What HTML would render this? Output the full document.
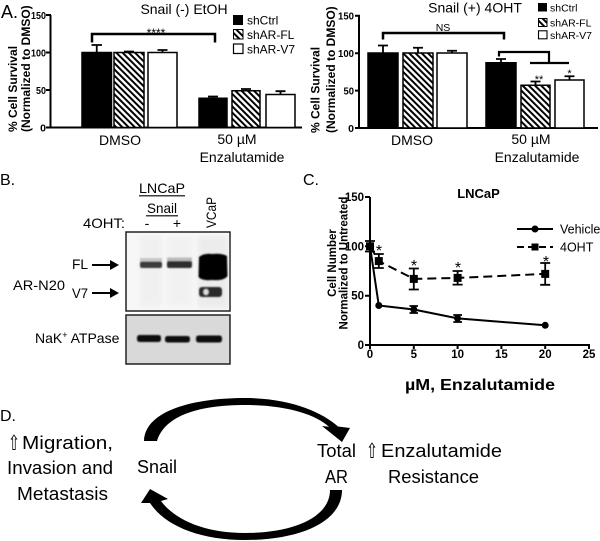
<!DOCTYPE html>
<html><head><meta charset="utf-8"><style>
html,body{margin:0;padding:0;background:#fff;}
svg{display:block;}
text{font-family:"Liberation Sans",Arial,sans-serif;fill:#000;}
.b{font-weight:bold;}
</style></head><body>
<svg width="600" height="541" viewBox="0 0 600 541" xmlns="http://www.w3.org/2000/svg">
<defs>
<pattern id="h" patternUnits="userSpaceOnUse" width="4.4" height="4.4" patternTransform="rotate(-45)">
<rect width="4.4" height="4.4" fill="#fff"/>
<rect x="0" y="0" width="2" height="4.4" fill="#000"/>
</pattern>
<filter id="bl" x="-20%" y="-50%" width="140%" height="200%"><feGaussianBlur stdDeviation="0.9"/></filter>
<filter id="bl2" x="-20%" y="-20%" width="140%" height="140%"><feGaussianBlur stdDeviation="2"/></filter>
</defs>

<!-- ============ PANEL A LEFT ============ -->
<text x="1" y="18" font-size="18">A.</text>
<text x="184" y="14" font-size="14" text-anchor="middle">Snail (-) EtOH</text>
<g stroke="#000" stroke-width="2" fill="none">
<path d="M50.5,15 V128.5 M50,127.5 H302"/>
<path d="M46,15 H51 M46,52.5 H51 M46,90 H51 M46,127.5 H51"/>
</g>
<g class="b" font-size="10.5" text-anchor="end">
<text x="46" y="19" textLength="15" lengthAdjust="spacingAndGlyphs">150</text>
<text x="46" y="56.5" textLength="15" lengthAdjust="spacingAndGlyphs">100</text>
<text x="46" y="94" textLength="10" lengthAdjust="spacingAndGlyphs">50</text>
<text x="46" y="131.5">0</text>
</g>
<text class="b" font-size="12" transform="translate(17,132) rotate(-90)">% Cell Survival</text>
<text class="b" font-size="12" transform="translate(30,132) rotate(-90)">(Normalized to DMSO)</text>
<!-- bars -->
<g stroke="#000" stroke-width="1.5">
<rect x="82" y="52.5" width="29.5" height="75" fill="#000"/>
<rect x="114" y="52.5" width="30" height="75" fill="url(#h)"/>
<rect x="148" y="52.5" width="29" height="75" fill="#fff"/>
<rect x="199" y="98.25" width="28" height="29.25" fill="#000"/>
<rect x="232" y="90.75" width="28" height="36.75" fill="url(#h)"/>
<rect x="266" y="94.5" width="29" height="33" fill="#fff"/>
</g>
<g stroke="#000" stroke-width="1.8" fill="none">
<path d="M96.75,52.5 V45 M91.5,45 H102"/>
<path d="M129,52.5 V51.5 M124,51.5 H134"/>
<path d="M162.5,52.5 V50 M157.5,50 H167.5"/>
<path d="M213,98 V96.5 M208,96.5 H218"/>
<path d="M246,90.5 V89 M241,89 H251"/>
<path d="M280.5,94.5 V91.2 M275.5,91.2 H285.5"/>
</g>
<path d="M92,42.5 V34 H215 V42.5" stroke="#000" stroke-width="2.5" fill="none"/>
<text x="156" y="37" font-size="12" text-anchor="middle">****</text>
<!-- legend -->
<rect x="233" y="15" width="10" height="10" fill="#000"/>
<rect x="233.5" y="29.5" width="9.5" height="9.5" fill="url(#h)" stroke="#000" stroke-width="1"/>
<rect x="233.5" y="44" width="9.5" height="9.5" fill="#fff" stroke="#000" stroke-width="1.2"/>
<text x="247" y="24.3" font-size="12">shCtrl</text>
<text x="247" y="38.8" font-size="12">shAR-FL</text>
<text x="247" y="53.3" font-size="12">shAR-V7</text>
<text x="120" y="145" font-size="14" text-anchor="middle">DMSO</text>
<text x="237" y="144" font-size="14" text-anchor="middle">50 µM</text>
<text x="242" y="162" font-size="14" text-anchor="middle">Enzalutamide</text>

<!-- ============ PANEL A RIGHT ============ -->
<text x="475" y="12.5" font-size="14" text-anchor="middle">Snail (+) 4OHT</text>
<g stroke="#000" stroke-width="2" fill="none">
<path d="M359,15.7 V129 M358.5,128 H598"/>
<path d="M355,15.7 H360 M355,53.2 H360 M355,90.6 H360 M355,128 H360"/>
</g>
<g class="b" font-size="10.5" text-anchor="end">
<text x="354" y="19.7" textLength="16" lengthAdjust="spacingAndGlyphs">150</text>
<text x="354" y="57.2" textLength="16" lengthAdjust="spacingAndGlyphs">100</text>
<text x="354" y="94.6" textLength="10.5" lengthAdjust="spacingAndGlyphs">50</text>
<text x="354" y="132">0</text>
</g>
<text class="b" font-size="12" transform="translate(319.5,133) rotate(-90)">% Cell Survival</text>
<text class="b" font-size="12" transform="translate(335,133) rotate(-90)">(Normalized to DMSO)</text>
<g stroke="#000" stroke-width="1.5">
<rect x="368" y="53" width="30" height="75" fill="#000"/>
<rect x="403" y="53" width="30" height="75" fill="url(#h)"/>
<rect x="437" y="53" width="30" height="75" fill="#fff"/>
<rect x="486" y="62.75" width="30" height="65.25" fill="#000"/>
<rect x="521" y="85.25" width="29" height="42.75" fill="url(#h)"/>
<rect x="555" y="80" width="29" height="48" fill="#fff"/>
</g>
<g stroke="#000" stroke-width="1.8" fill="none">
<path d="M383,53 V45.5 M378,45.5 H388"/>
<path d="M418,53 V47.75 M413,47.75 H423"/>
<path d="M452,53 V50.75 M447,50.75 H457"/>
<path d="M501,62.75 V59 M496,59 H506"/>
<path d="M535.5,85.25 V81.5 M530.5,81.5 H540.5"/>
<path d="M569.5,80 V76.25 M564.5,76.25 H574.5"/>
</g>
<path d="M383,39.5 V33 H504 V39.5" stroke="#000" stroke-width="2.5" fill="none"/>
<text x="443" y="31" font-size="10.5" text-anchor="middle">NS</text>
<path d="M499,56.5 V52 H549 V63 M530,63 H569" stroke="#000" stroke-width="2.2" fill="none"/>
<text x="539" y="83" font-size="11" text-anchor="middle" fill="#333">**</text>
<text x="569.5" y="77" font-size="11" text-anchor="middle" fill="#333">*</text>
<rect x="538" y="3" width="9" height="8.5" fill="#000"/>
<rect x="538.5" y="18.5" width="8.5" height="8" fill="url(#h)" stroke="#000" stroke-width="1"/>
<rect x="538.5" y="30.8" width="8.5" height="8" fill="#fff" stroke="#000" stroke-width="1.1"/>
<text x="550" y="11.5" font-size="10.5">shCtrl</text>
<text x="550" y="26.7" font-size="10.5">shAR-FL</text>
<text x="550" y="39" font-size="10.5">shAR-V7</text>
<text x="412" y="145" font-size="14" text-anchor="middle">DMSO</text>
<text x="531" y="144" font-size="14" text-anchor="middle">50 µM</text>
<text x="537" y="162" font-size="14" text-anchor="middle">Enzalutamide</text>

<!-- ============ PANEL B ============ -->
<text x="0" y="185" font-size="16">B.</text>
<text x="139" y="193" font-size="14" textLength="46" lengthAdjust="spacingAndGlyphs">LNCaP</text>
<path d="M139,195.8 H185" stroke="#000" stroke-width="1.2"/>
<text x="147" y="213" font-size="14" textLength="30" lengthAdjust="spacingAndGlyphs">Snail</text>
<path d="M146,215.8 H178" stroke="#000" stroke-width="1.2"/>
<text x="83" y="228" font-size="14" textLength="42" lengthAdjust="spacingAndGlyphs">4OHT:</text>
<text x="147" y="228" font-size="14" text-anchor="middle">-</text>
<text x="177" y="228" font-size="14" text-anchor="middle">+</text>
<text font-size="14" transform="translate(216,228) rotate(-90)" textLength="31" lengthAdjust="spacingAndGlyphs">VCaP</text>
<!-- blot 1 -->
<rect x="126" y="232" width="104" height="79" fill="#f7f7f7" stroke="#222" stroke-width="1.5"/>
<g filter="url(#bl2)" opacity="0.35">
<rect x="140" y="236" width="22" height="70" fill="#e4e4e4"/>
<rect x="167" y="236" width="25" height="70" fill="#e8e8e8"/>
<rect x="198" y="236" width="30" height="72" fill="#d8d8d8"/>
</g>
<g filter="url(#bl)">
<rect x="140" y="258" width="22" height="5" fill="#c8c8c8"/>
<rect x="167" y="257.5" width="25" height="5" fill="#bbb"/>
<rect x="140" y="261.5" width="22" height="6.5" rx="2" fill="#3a3a3a"/>
<rect x="167" y="261" width="25" height="7" rx="2" fill="#2e2e2e"/>
<path d="M199,257 Q204,253 212,254 Q222,253 227,256 L227.5,276 Q224,281 212,280 Q202,281 198.5,277 Z" fill="#000"/>
<rect x="199" y="287" width="23" height="10" rx="3" fill="#2a2a2a"/>
<ellipse cx="206" cy="292" rx="2.6" ry="3" fill="#ddd"/>
</g>
<path d="M92,265 H113" stroke="#000" stroke-width="2"/>
<polygon points="110,260 119,265 110,270" fill="#000"/>
<path d="M92,293 H113" stroke="#000" stroke-width="2"/>
<polygon points="110,288 119,293 110,298" fill="#000"/>
<text x="72" y="269" font-size="14" textLength="16" lengthAdjust="spacingAndGlyphs">FL</text>
<text x="72" y="298" font-size="14" textLength="16" lengthAdjust="spacingAndGlyphs">V7</text>
<text x="13" y="290" font-size="14" textLength="52" lengthAdjust="spacingAndGlyphs">AR-N20</text>
<!-- blot 2 -->
<rect x="126" y="315" width="104" height="49" fill="#d9d9d9" stroke="#222" stroke-width="1.5"/>
<g filter="url(#bl)">
<rect x="137" y="335" width="24" height="7" rx="2.5" fill="#0a0a0a"/>
<rect x="165" y="336" width="25" height="6.5" rx="2.5" fill="#0a0a0a"/>
<rect x="196" y="335.5" width="26" height="7" rx="2.5" fill="#0a0a0a"/>
</g>
<text x="35" y="343" font-size="14">NaK<tspan font-size="9" dy="-5">+</tspan><tspan dy="5"> ATPase</tspan></text>

<!-- ============ PANEL C ============ -->
<text x="303" y="185" font-size="16">C.</text>
<text x="478.5" y="198" class="b" font-size="13" text-anchor="middle">LNCaP</text>
<g stroke="#000" stroke-width="2" fill="none">
<path d="M370,197 V346 M369,345 H590"/>
<path d="M365,197 H370 M365,246.3 H370 M365,295.7 H370 M365,345 H370"/>
<path d="M370,345 V349 M413.8,345 V349 M457.6,345 V349 M501.4,345 V349 M545.2,345 V349 M589,345 V349"/>
</g>
<g class="b" font-size="11.5" text-anchor="end">
<text x="364" y="201">150</text>
<text x="364" y="250.3">100</text>
<text x="364" y="299.7">50</text>
<text x="364" y="349">0</text>
</g>
<g class="b" font-size="11.5" text-anchor="middle">
<text x="370" y="358">0</text>
<text x="413.8" y="358">5</text>
<text x="457.6" y="358">10</text>
<text x="501.4" y="358">15</text>
<text x="545.2" y="358">20</text>
<text x="589" y="358">25</text>
</g>
<text class="b" font-size="11.5" text-anchor="middle" transform="translate(336,263) rotate(-90)">Cell Number</text>
<text class="b" font-size="11.5" text-anchor="middle" transform="translate(347.5,263) rotate(-90)">Normalized to Untreated</text>
<text class="b" x="405" y="390" font-size="16" textLength="150" lengthAdjust="spacingAndGlyphs">µM, Enzalutamide</text>
<!-- vehicle -->
<polyline points="370,246.3 378.8,305.5 413.8,309.5 457.6,318.4 545.2,325.3" fill="none" stroke="#000" stroke-width="2"/>
<g stroke="#000" stroke-width="1.8">
<path d="M413.8,306 V313 M409.5,306 H418 M409.5,313 H418"/>
<path d="M457.6,315 V322 M453.3,315 H462 M453.3,322 H462"/>
</g>
<g fill="#000">
<circle cx="370" cy="246.3" r="3.5"/><circle cx="378.8" cy="305.5" r="3.5"/><circle cx="413.8" cy="309.5" r="3.5"/><circle cx="457.6" cy="318.4" r="3.5"/><circle cx="545.2" cy="325.3" r="3.5"/>
</g>
<!-- 4OHT -->
<polyline points="370,246.3 378.8,261.1 413.8,278.9 457.6,277.9 545.2,273.9" fill="none" stroke="#000" stroke-width="2" stroke-dasharray="9,5"/>
<g stroke="#000" stroke-width="1.8">
<path d="M370,241 V251.5 M365,241 H375 M365,251.5 H375"/>
<path d="M378.8,254 V268 M373.8,254 H383.8 M373.8,268 H383.8"/>
<path d="M413.8,268.5 V289.5 M408.8,268.5 H418.8 M408.8,289.5 H418.8"/>
<path d="M457.6,271 V284.6 M452.6,271 H462.6 M452.6,284.6 H462.6"/>
<path d="M545.2,263 V284.8 M540.2,263 H550.2 M540.2,284.8 H550.2"/>
</g>
<g fill="#000">
<rect x="366" y="242.3" width="8" height="8"/><rect x="374.8" y="257.1" width="8" height="8"/><rect x="409.8" y="274.9" width="8" height="8"/><rect x="453.6" y="273.9" width="8" height="8"/><rect x="541.2" y="269.9" width="8" height="8"/>
</g>
<g font-size="16" text-anchor="middle">
<text x="379" y="256">*</text>
<text x="414" y="271">*</text>
<text x="458" y="273">*</text>
<text x="546" y="267">*</text>
</g>
<!-- legend -->
<path d="M517,229 H553" stroke="#000" stroke-width="2"/>
<circle cx="535" cy="229" r="3.5" fill="#000"/>
<path d="M517,247 H553" stroke="#000" stroke-width="2" stroke-dasharray="7,4"/>
<rect x="531.5" y="243.5" width="7" height="7" fill="#000"/>
<text x="560" y="233.5" font-size="12.5">Vehicle</text>
<text x="560" y="251.5" font-size="12.5">4OHT</text>

<!-- ============ PANEL D ============ -->
<text x="0" y="421" font-size="16">D.</text>
<path d="M144,441 C145,410 195,398 245,398 C290,398 322,412 338,426.5 L350,428 L342,442 L322,426 L329,426.8 C315,414 285,405 245,405 C200,405 165,415 157,441 Z" fill="#000"/>
<path d="M342,490 C342,522 300,540 245,540 C200,540 165,526 150,503 L141,503 L150,489 L168,499 L161,501 C175,520 205,533 245,533 C292,533 330,518 330,490 Z" fill="#000"/>
<text x="8" y="450" font-size="21" style="font-family:'DejaVu Sans',sans-serif" textLength="12" lengthAdjust="spacingAndGlyphs">⇧</text>
<text x="22" y="449" font-size="18" textLength="91" lengthAdjust="spacingAndGlyphs">Migration,</text>
<text x="7" y="474" font-size="18" textLength="106" lengthAdjust="spacingAndGlyphs">Invasion and</text>
<text x="17" y="500" font-size="18" textLength="91" lengthAdjust="spacingAndGlyphs">Metastasis</text>
<text x="137" y="473" font-size="18" textLength="40" lengthAdjust="spacingAndGlyphs">Snail</text>
<text x="317" y="457" font-size="18" textLength="39" lengthAdjust="spacingAndGlyphs">Total</text>
<text x="325" y="483" font-size="18" textLength="23" lengthAdjust="spacingAndGlyphs">AR</text>
<text x="366" y="458" font-size="21" style="font-family:'DejaVu Sans',sans-serif" textLength="12" lengthAdjust="spacingAndGlyphs">⇧</text>
<text x="381" y="457" font-size="18" textLength="121" lengthAdjust="spacingAndGlyphs">Enzalutamide</text>
<text x="388" y="483" font-size="18" textLength="91" lengthAdjust="spacingAndGlyphs">Resistance</text>
</svg>
</body></html>
